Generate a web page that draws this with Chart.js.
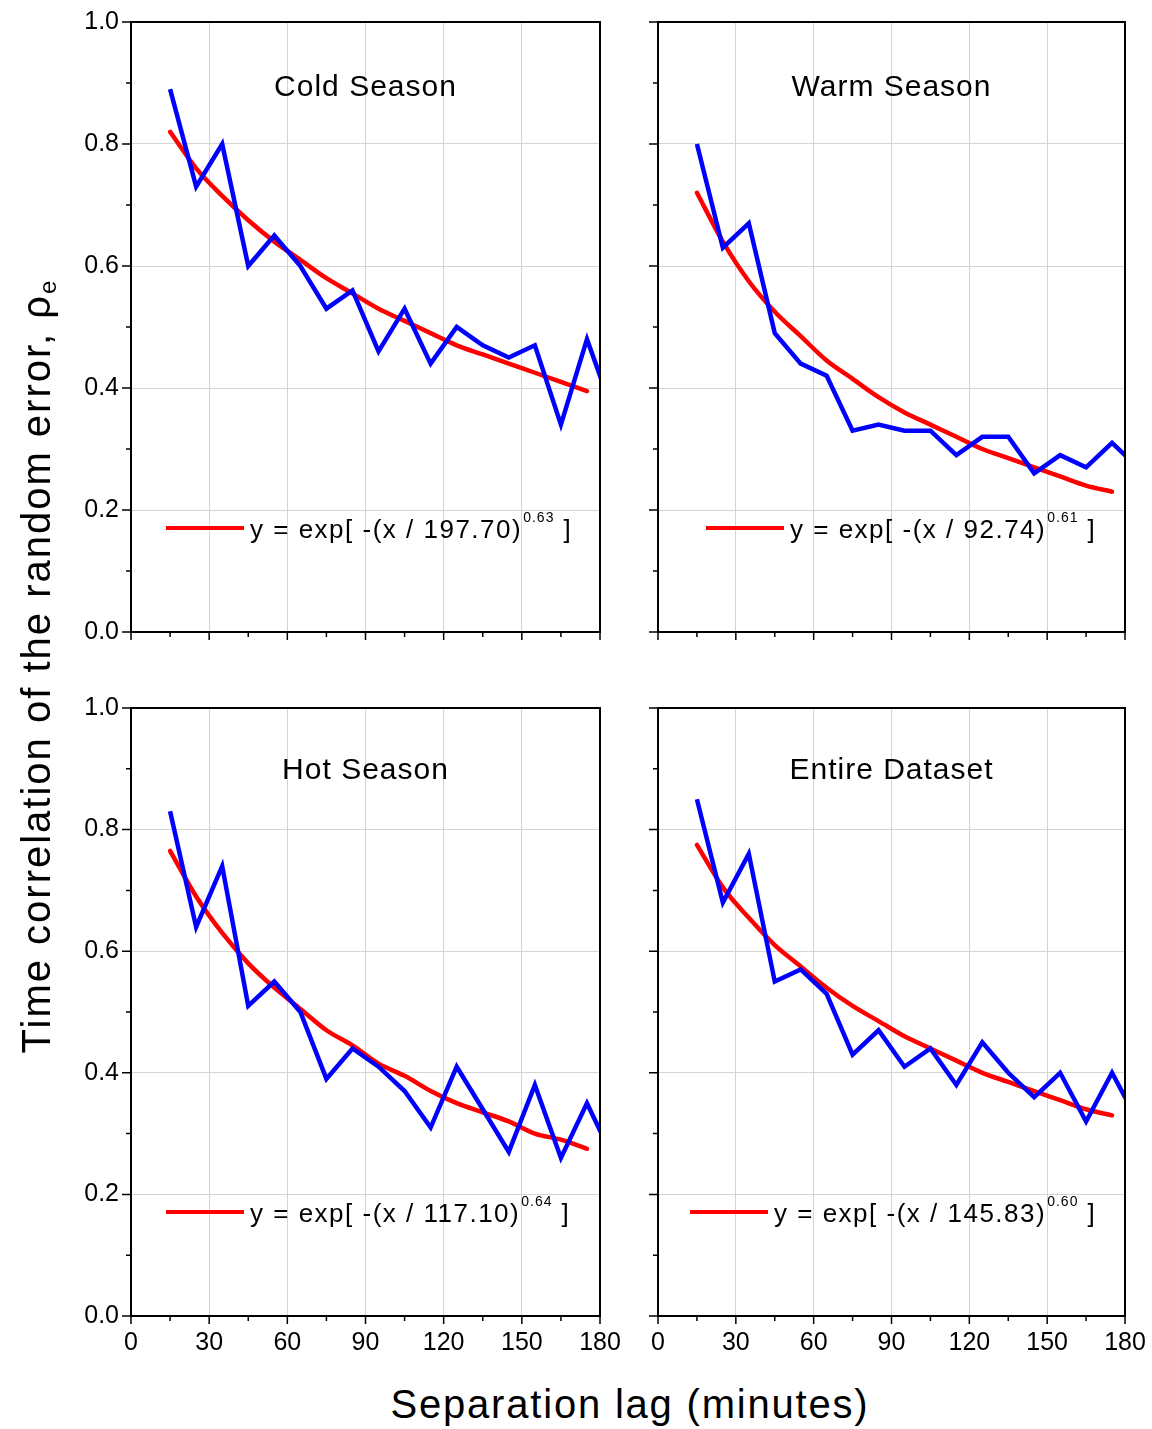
<!DOCTYPE html>
<html>
<head>
<meta charset="utf-8">
<script src="https://cdn.jsdelivr.net/npm/chart.js@4.4.1/dist/chart.umd.min.js"></script>
<style>
  body { margin: 0; background: #fff; width: 1152px; height: 1429px; position: relative; overflow: hidden;
         font-family: "Liberation Sans", Arial, sans-serif; }
  canvas { position: absolute; }
  .ytitle { position: absolute; left: -364px; top: 642px; width: 800px; height: 48px; line-height: 48px;
            text-align: center; font-size: 40px; letter-spacing: 2px; transform: rotate(-90deg); white-space: nowrap; }
  .ytitle sub { font-size: 24px; vertical-align: -6px; }
  .xtitle { position: absolute; left: 230px; top: 1380px; width: 800px; height: 48px; line-height: 48px;
            text-align: center; font-size: 40px; letter-spacing: 1.8px; white-space: nowrap; }
</style>
</head>
<body>
<canvas id="cold" width="640" height="680" style="left:0;top:-10px"></canvas>
<canvas id="warm" width="540" height="680" style="left:630px;top:-10px"></canvas>
<canvas id="hot" width="640" height="700" style="left:0;top:670px"></canvas>
<canvas id="entire" width="540" height="700" style="left:630px;top:670px"></canvas>
<div class="ytitle">Time correlation of the random error, ρ<sub>e</sub></div>
<div class="xtitle">Separation lag (minutes)</div>
<script>
// separation lags (minutes)
const obsLags = [15, 25, 35, 45, 55, 65, 75, 85, 95, 105, 115, 125, 135, 145, 155, 165, 175, 185];
const fitLags = [15, 25, 35, 45, 55, 65, 75, 85, 95, 105, 115, 125, 135, 145, 155, 165, 175];

// observed correlation (blue)
const coldObs   = [0.89, 0.73, 0.80, 0.60, 0.65, 0.60, 0.53, 0.56, 0.46, 0.53, 0.44, 0.50, 0.47, 0.45, 0.47, 0.34, 0.48, 0.36];
const warmObs   = [0.80, 0.63, 0.67, 0.49, 0.44, 0.42, 0.33, 0.34, 0.33, 0.33, 0.29, 0.32, 0.32, 0.26, 0.29, 0.27, 0.31, 0.27];
const hotObs    = [0.83, 0.64, 0.74, 0.51, 0.55, 0.50, 0.39, 0.44, 0.41, 0.37, 0.31, 0.41, 0.34, 0.27, 0.38, 0.26, 0.35, 0.26];
const entireObs = [0.85, 0.68, 0.76, 0.55, 0.57, 0.53, 0.43, 0.47, 0.41, 0.44, 0.38, 0.45, 0.40, 0.36, 0.40, 0.32, 0.40, 0.32];

// fitted curve (red)
const coldFit   = [0.82, 0.76, 0.715, 0.675, 0.64, 0.61, 0.58, 0.555, 0.53, 0.51, 0.49, 0.47, 0.455, 0.44, 0.425, 0.41, 0.395];
const warmFit   = [0.72, 0.64, 0.575, 0.525, 0.485, 0.445, 0.415, 0.385, 0.36, 0.34, 0.32, 0.30, 0.285, 0.27, 0.255, 0.24, 0.23];
const hotFit    = [0.765, 0.69, 0.63, 0.58, 0.54, 0.505, 0.47, 0.445, 0.415, 0.395, 0.37, 0.35, 0.335, 0.32, 0.30, 0.29, 0.275];
const entireFit = [0.775, 0.705, 0.655, 0.61, 0.575, 0.54, 0.51, 0.485, 0.46, 0.44, 0.42, 0.40, 0.385, 0.37, 0.355, 0.34, 0.33];

// titles and fit labels
const titles = ['Cold Season', 'Warm Season', 'Hot Season', 'Entire Dataset'];
const fitScale = ['197.70', '92.74', '117.10', '145.83'];
const fitShape = ['0.63', '0.61', '0.64', '0.60'];

const yTicks = [0, 0.2, 0.4, 0.6, 0.8, 1.0];
const xTicks = [0, 30, 60, 90, 120, 150, 180];

const FONT = '"Liberation Sans", Arial, sans-serif';

// frame, minor ticks, panel title and fit legend
const panelDecor = {
    id: 'panelDecor',
    afterDraw(chart, args, opts) {
        const ctx = chart.ctx;
        const a = chart.chartArea;
        const x = chart.scales.x, y = chart.scales.y;
        ctx.save();
        ctx.strokeStyle = '#000';
        ctx.lineWidth = 1.5;
        ctx.beginPath();
        for (let v = 0; v <= 180; v += 15) {
            const px = x.getPixelForValue(v);
            ctx.moveTo(px, a.bottom);
            ctx.lineTo(px, a.bottom + (v % 30 === 0 ? 8 : 5));
        }
        for (let i = 0; i <= 10; i++) {
            const py = y.getPixelForValue(i / 10);
            ctx.moveTo(a.left, py);
            ctx.lineTo(a.left - (i % 2 === 0 ? 9 : 5), py);
        }
        ctx.stroke();
        ctx.lineWidth = 2;
        ctx.strokeRect(a.left, a.top, a.right - a.left, a.bottom - a.top);

        // title
        ctx.fillStyle = '#000';
        ctx.font = '30px ' + FONT;
        ctx.letterSpacing = '1px';
        ctx.textAlign = 'center';
        ctx.textBaseline = 'alphabetic';
        ctx.fillText(opts.title, (a.left + a.right) / 2, a.top + opts.titleY);

        // legend line + equation
        const ly = a.bottom - 104;
        const lx = a.left + opts.legX;
        ctx.strokeStyle = '#ff0000';
        ctx.lineWidth = 4;
        ctx.beginPath();
        ctx.moveTo(lx, ly);
        ctx.lineTo(lx + 78, ly);
        ctx.stroke();

        ctx.textAlign = 'left';
        ctx.font = '26px ' + FONT;
        ctx.letterSpacing = '1.5px';
        const main = 'y = exp[ -(x / ' + opts.scale + ')';
        let tx = lx + 84;
        ctx.fillText(main, tx, ly + 10);
        tx += ctx.measureText(main).width + 1;
        ctx.font = '14px ' + FONT;
        ctx.letterSpacing = '1px';
        ctx.fillText(opts.shape, tx, ly - 6);
        tx += ctx.measureText(opts.shape).width + 9;
        ctx.font = '26px ' + FONT;
        ctx.fillText(']', tx, ly + 10);
        ctx.restore();
    }
};

function makePanel(id, obs, fit, idx, cfg) {
    const ctx = document.getElementById(id).getContext('2d');
    return new Chart(ctx, {
        type: 'line',
        data: {
            datasets: [{
                data: obsLags.map((l, i) => ({ x: l, y: obs[i] })),
                borderColor: '#0000ff',
                borderWidth: 4.5,
                pointRadius: 0,
                tension: 0,
                clip: 0
            }, {
                data: fitLags.map((l, i) => ({ x: l, y: fit[i] })),
                borderColor: '#ff0000',
                borderWidth: 4.5,
                pointRadius: 0,
                cubicInterpolationMode: 'monotone',
                borderCapStyle: 'round',
                clip: 0
            }]
        },
        options: {
            responsive: false,
            animation: false,
            layout: { padding: { left: 0, right: cfg.right, top: cfg.top, bottom: 0 } },
            plugins: {
                legend: { display: false },
                tooltip: { enabled: false },
                panelDecor: {
                    title: titles[idx],
                    titleY: cfg.titleY,
                    legX: cfg.legX,
                    scale: fitScale[idx],
                    shape: fitShape[idx]
                }
            },
            scales: {
                x: {
                    type: 'linear',
                    min: 0, max: 180,
                    afterBuildTicks: s => { s.ticks = xTicks.map(v => ({ value: v })); },
                    ticks: { display: cfg.showX, padding: 12, color: '#000', font: { size: 25, family: FONT } },
                    grid: { color: '#d4d4d4', lineWidth: 1, drawTicks: false },
                    border: { display: false },
                    afterFit: s => { s.height = cfg.xh; }
                },
                y: {
                    min: 0, max: 1,
                    afterBuildTicks: s => { s.ticks = yTicks.map(v => ({ value: v })); },
                    ticks: { display: cfg.showY, padding: 12, color: '#000', font: { size: 25, family: FONT },
                             callback: v => v.toFixed(1) },
                    grid: { color: '#d4d4d4', lineWidth: 1, drawTicks: false },
                    border: { display: false },
                    afterFit: s => { s.width = cfg.yw; }
                }
            }
        },
        plugins: [panelDecor]
    });
}

makePanel('cold', coldObs, coldFit, 0, { right: 40, top: 32, xh: 38, yw: 131, showX: false, showY: true, titleY: 74, legX: 35 });
makePanel('warm', warmObs, warmFit, 1, { right: 45, top: 32, xh: 38, yw: 28, showX: false, showY: false, titleY: 74, legX: 48 });
makePanel('hot', hotObs, hotFit, 2, { right: 40, top: 38, xh: 54, yw: 131, showX: true, showY: true, titleY: 71, legX: 35 });
makePanel('entire', entireObs, entireFit, 3, { right: 45, top: 38, xh: 54, yw: 28, showX: true, showY: false, titleY: 71, legX: 32 });
</script>
</body>
</html>
